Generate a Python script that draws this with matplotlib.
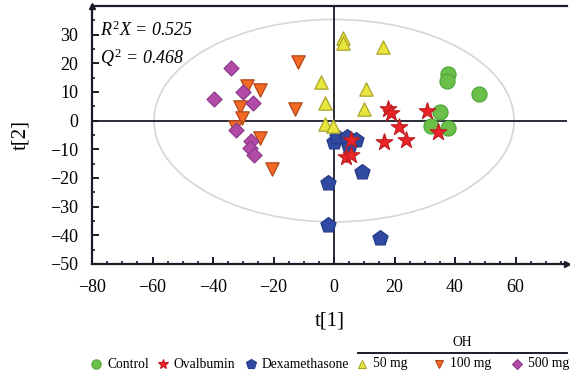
import matplotlib

matplotlib.use("Agg")
import matplotlib.pyplot as plt
from matplotlib.lines import Line2D
from matplotlib.patches import Ellipse

# scores (t[1], t[2])
control_x = [37.6, 37.3, 48.0, 34.9, 31.9, 37.6]
control_y = [16.4, 13.9, 9.2, 3.0, -1.7, -2.6]

ovalbumin_x = [17.7, 18.8, 30.8, 21.6, 34.5, 23.8, 16.6, 5.5, 3.9, 5.5]
ovalbumin_y = [4.2, 2.5, 3.4, -2.2, -3.9, -6.8, -7.4, -6.6, -12.6, -12.0]

dexa_x = [0.0, 0.9, 4.2, 7.2, 5.0, 9.4, -2.0, -2.0, 15.3]
dexa_y = [-7.4, -5.6, -5.6, -6.8, -9.1, -17.8, -21.7, -36.4, -41.0]

oh50_x = [3.1, 3.1, 16.1, -4.2, 10.5, -3.1, 9.8, -3.1, -0.2]
oh50_y = [29.0, 27.1, 25.7, 13.5, 10.9, 6.2, 3.9, -1.0, -1.9]

oh100_x = [-11.8, -28.7, -24.6, -31.2, -12.9, -30.4, -32.6, -24.6, -20.4]
oh100_y = [20.3, 12.0, 10.6, 4.8, 3.9, 1.1, -2.2, -6.2, -17.0]

oh500_x = [-34.1, -39.8, -30.1, -26.8, -32.3, -27.4, -27.9, -26.3]
oh500_y = [18.2, 7.7, 10.0, 6.2, -3.3, -7.0, -9.7, -12.0]

ellipse_w = 119.0
ellipse_h = 70.6

plt.rcParams["font.family"] = ["Liberation Serif", "DejaVu Serif"]
plt.rcParams["mathtext.fontset"] = "custom"
plt.rcParams["mathtext.it"] = "Liberation Serif:italic"
plt.rcParams["mathtext.rm"] = "Liberation Serif"

# (label, x, y, marker, size, face, edge)
GROUPS = [
    ("Control", control_x, control_y, "o", 117, "#6cbf48", "#4ea83a"),
    ("Dexamethasone", dexa_x, dexa_y, "p", 130, "#2f4aa0", "#243a8a"),
    ("Ovalbumin", ovalbumin_x, ovalbumin_y, "*", 155, "#ec2327", "#c01d22"),
    ("50 mg", oh50_x, oh50_y, "^", 92, "#e9e63e", "#a9a52a"),
    ("100 mg", oh100_x, oh100_y, "v", 92, "#f26a26", "#b2471a"),
    ("500 mg", oh500_x, oh500_y, "D", 58, "#b24aa8", "#8e3a8a"),
]

fig = plt.figure(figsize=(5.7, 3.77), dpi=100)
ax = fig.add_axes([92 / 570, 1 - 264 / 377, (567 - 92) / 570, (264 - 6) / 377])

ax.add_patch(Ellipse((0, 0), ellipse_w, ellipse_h, fill=False, edgecolor="#d6d6d6", linewidth=1.2, zorder=1))
ax.axvline(0, color="#1b1b2a", linewidth=1.3, zorder=2)
ax.axhline(0, color="#1b1b2a", linewidth=1.3, zorder=2)

for label, xs, ys, marker, size, face, edge in GROUPS:
    ax.scatter(xs, ys, s=size, marker=marker, c=face, edgecolors=edge, linewidths=0.9, zorder=3, label=label)

ax.set_xlim(-80, 77)
ax.set_ylim(-50, 40)
ax.set_xticks(range(-80, 61, 20))
ax.set_yticks(range(-50, 31, 10))
ax.set_xticks(range(-80, 76, 5), minor=True)
ax.set_yticks(range(-50, 36, 5), minor=True)
ax.tick_params(which="major", direction="in", length=5, width=1.4, labelsize=13, color="#1b1b2a")
ax.tick_params(axis="x", which="major", pad=11)
ax.tick_params(axis="y", which="major", pad=10)
ax.tick_params(which="minor", direction="in", length=2.5, width=1.2, color="#1b1b2a")
ax.spines["right"].set_visible(False)
for side in ("left", "bottom", "top"):
    ax.spines[side].set_linewidth(1.6)
    ax.spines[side].set_color("#1b1b2a")

# arrow heads on the axes
ax.plot(1, 0, ">", color="#1b1b2a", markersize=5, transform=ax.transAxes, clip_on=False)
ax.plot(0, 1, "^", color="#1b1b2a", markersize=5, transform=ax.transAxes, clip_on=False)

ax.set_xlabel("t[1]", fontsize=15, labelpad=11)
ax.set_ylabel("t[2]", fontsize=15, labelpad=14)

ax.text(-77.5, 31.5, r"$R^2X$ = 0.525", fontsize=13, style="italic", va="center")
ax.text(-77.5, 22.0, r"$Q^2$ = 0.468", fontsize=13, style="italic", va="center")

# legend row laid out by hand, with the OH bracket over the dose groups
legend_order = ["Control", "Ovalbumin", "Dexamethasone", "50 mg", "100 mg", "500 mg"]
marker_px = [96, 163, 251, 362, 439, 517]
by_label = {g[0]: g for g in GROUPS}
row_y = 1 - 364 / 377
for label, mx in zip(legend_order, marker_px):
    _, _, _, marker, size, face, edge = by_label[label]
    ms = (size ** 0.5) * 0.62
    fig.add_artist(Line2D([mx / 570], [row_y], marker=marker, markersize=ms, markerfacecolor=face,
                          markeredgecolor=edge, markeredgewidth=0.8, linestyle="none", transform=fig.transFigure))
    fig.text((mx + 11) / 570, row_y, label, fontsize=9.8, va="center", ha="left")

fig.add_artist(Line2D([358 / 570, 567 / 570], [1 - 353 / 377] * 2, color="#1b1b2a", linewidth=1.4, transform=fig.transFigure))
fig.text(462 / 570, 1 - 343 / 377, "OH", fontsize=9.8, ha="center", va="center")

fig.savefig("out.png", dpi=100)
